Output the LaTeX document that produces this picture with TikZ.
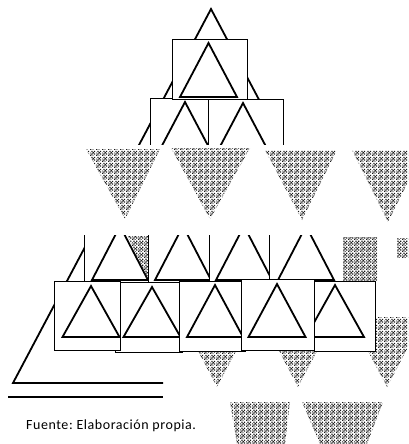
\documentclass[tikz,border=0pt]{standalone}
\usepackage{fontspec}
\setmainfont{Carlito}
\usetikzlibrary{patterns}
\pgfdeclarepatternformonly{xdots}{\pgfpointorigin}{\pgfqpoint{6pt}{6pt}}{\pgfqpoint{6pt}{6pt}}{%
  \pgfpathrectangle{\pgfqpoint{0pt}{0pt}}{\pgfqpoint{1.5pt}{1.5pt}}%
  \pgfpathrectangle{\pgfqpoint{1.5pt}{1.5pt}}{\pgfqpoint{1.5pt}{1.5pt}}%
  \pgfpathrectangle{\pgfqpoint{3pt}{3pt}}{\pgfqpoint{1.5pt}{1.5pt}}%
  \pgfpathrectangle{\pgfqpoint{4.5pt}{4.5pt}}{\pgfqpoint{1.5pt}{1.5pt}}%
  \pgfpathrectangle{\pgfqpoint{4.5pt}{1.5pt}}{\pgfqpoint{1.5pt}{1.5pt}}%
  \pgfpathrectangle{\pgfqpoint{1.5pt}{4.5pt}}{\pgfqpoint{1.5pt}{1.5pt}}%
  \pgfpathrectangle{\pgfqpoint{3pt}{0pt}}{\pgfqpoint{1pt}{1pt}}%
  \pgfpathrectangle{\pgfqpoint{0pt}{3pt}}{\pgfqpoint{1pt}{1pt}}%
  \pgfusepath{fill}}
\newcommand{\mytri}[4]{\draw[tri,fill=white] ({#1-#4},#3) -- (#1,#2) -- ({#1+#4},#3) -- cycle;}
\begin{document}
\begin{tikzpicture}[x=1pt,y=-1pt,
  tri/.style={line width=1.8pt},
  boxs/.style={draw=black, line width=0.9pt, fill=white},
  dots/.style={pattern=xdots, pattern color=black!90}]
\useasboundingbox (0,0) rectangle (408,444);
\clip (0,0) rectangle (408,444);

% large triangle outline
\coordinate (apex) at (211,9);
\coordinate (bl) at (13,383);
\coordinate (be) at (163,383);
\coordinate (rc) at (283,145);
\draw[tri] (rc) -- (apex) -- (bl) -- (be);
\coordinate (l1a) at (8,397);
\coordinate (l1b) at (163,397);
\draw[line width=1.2pt] (l1a) -- (l1b);

% second level boxes
\draw[boxs] (150,98) rectangle (208,170);
\mytri{185}{102}{156}{28.5}
\draw[boxs] (208,99) rectangle (283,170);
\mytri{243}{103}{157}{28.5}
% top box
\draw[boxs] (172,39) rectangle (247,99);
\mytri{208.5}{43}{97}{28.5}

% upper row of lower group
\draw[boxs] (84,220) rectangle (148,290);
\mytri{120}{226}{280}{28}
\fill[dots] (128,236) -- (148,236) -- (148,278) -- (146,278) -- cycle;
\draw[boxs] (148,220) rectangle (209,290);
\mytri{183}{226}{280}{28}
\draw[boxs] (209,220) rectangle (269,290);
\mytri{244}{226}{280}{28}
\fill[white] (269,220) rectangle (342,290);
\draw[line width=0.9pt] (269,220) -- (269,290);
\mytri{306}{226}{280}{28}
\fill[dots] (343,237) rectangle (377,280);
\fill[dots] (397,238) rectangle (408,257);

% white band with shaded inverted triangles
\fill[white] (0,145) rectangle (408,235);
\fill[dots] (86,149) -- (160,149) -- (125,219) -- cycle;
\fill[dots] (171,148) -- (250,148) -- (210,219) -- cycle;
\fill[dots] (265,150) -- (337,150) -- (302,220) -- cycle;
\fill[dots] (352,150) -- (424,150) -- (388,222) -- cycle;

% shaded triangles behind the bottom row
\fill[dots] (180,317) -- (254,317) -- (217,387) -- cycle;
\fill[dots] (261,317) -- (335,317) -- (298,387) -- cycle;
\fill[dots] (350,317) -- (424,317) -- (387,387) -- cycle;

% bottom row of boxes
\draw[boxs] (115,282) rectangle (182,352);
\mytri{152}{287}{337}{28.5}
\draw[boxs] (54,281) rectangle (120,350);
\mytri{91}{286}{337}{28.5}
\draw[boxs] (179,281) rectangle (245,351);
\mytri{215}{285}{337}{28}
\draw[boxs] (314,281) rectangle (375,351);
\mytri{335}{285}{337}{29}
\draw[boxs] (241,279) rectangle (314,350);
\mytri{277}{284}{337}{28.5}

% shaded shapes at the bottom
\fill[dots] (230,402) -- (290,402) -- (285,444) -- (237,444) -- cycle;
\fill[dots] (302,402) -- (383,402) -- (367,444) -- (320,444) -- cycle;

% source note
\node[anchor=base west, inner sep=0pt, font={\fontsize{14}{16}\selectfont\addfontfeatures{LetterSpace=4}\frenchspacing}] (src) at (26,429) {Fuente: Elaboración propia.};
\end{tikzpicture}
\end{document}
